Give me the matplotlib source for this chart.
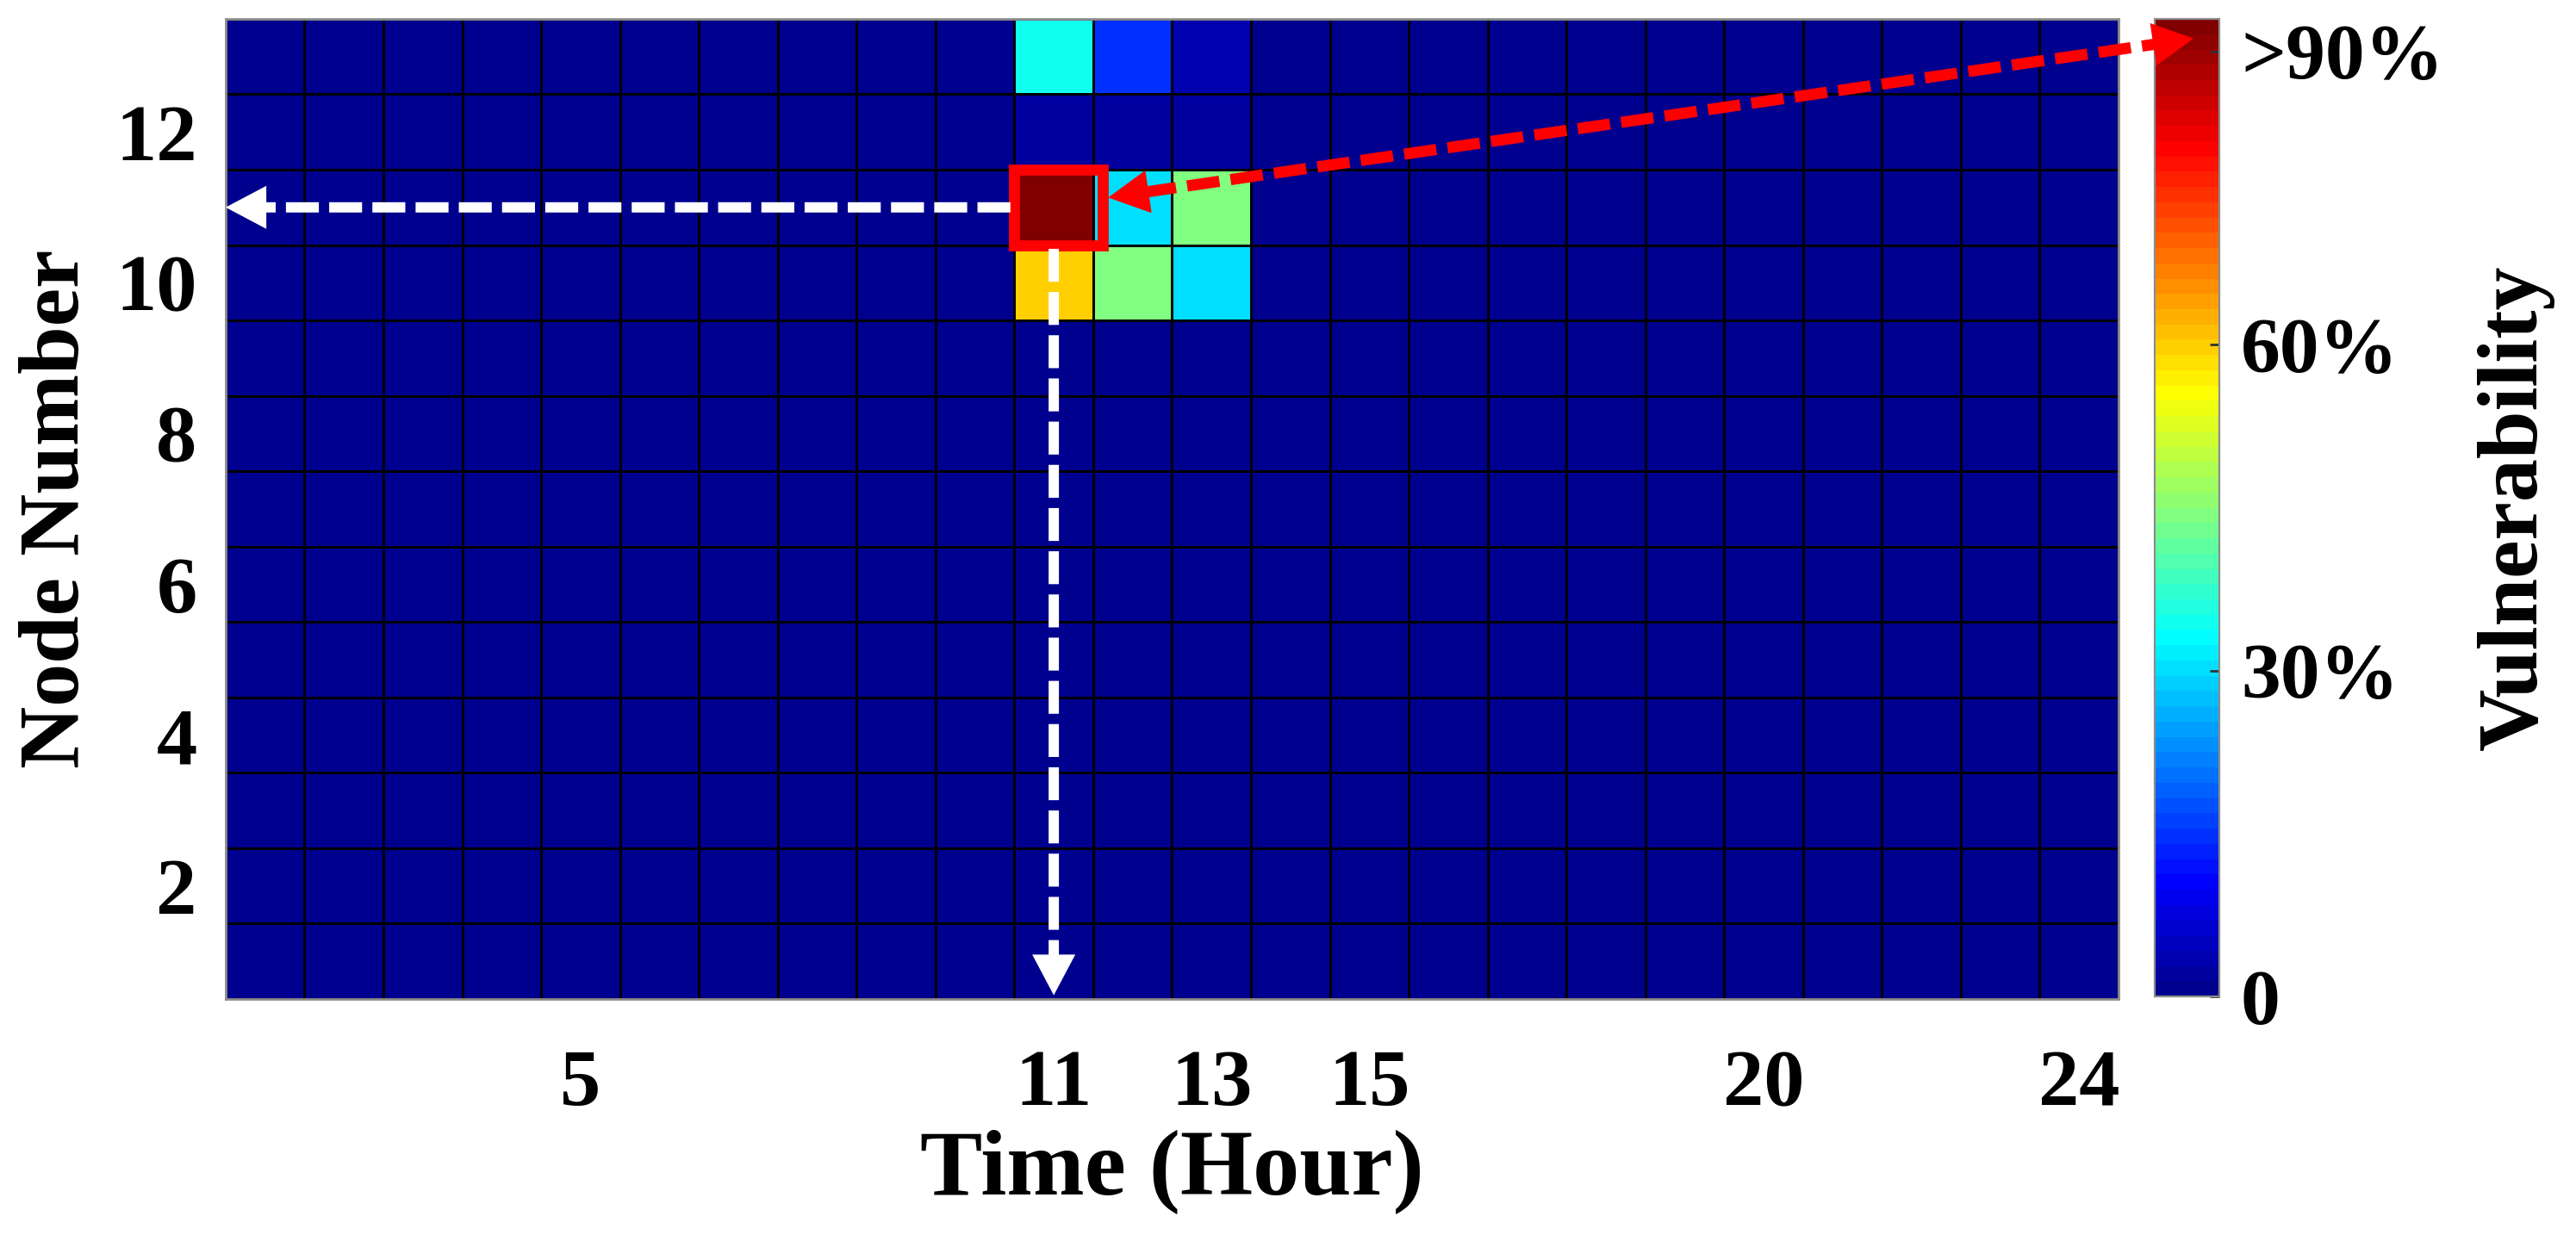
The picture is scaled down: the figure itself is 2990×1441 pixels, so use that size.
import numpy as np
import matplotlib
matplotlib.use("Agg")
import matplotlib.pyplot as plt
from matplotlib.colors import ListedColormap
from matplotlib.patches import Rectangle

plt.rcParams["font.family"] = ["Liberation Serif", "DejaVu Serif"]
plt.rcParams["font.weight"] = "bold"

# data
hours = np.arange(1, 25)
nodes = np.arange(1, 14)
hot_hours = [11, 12, 13, 11, 12, 13, 11, 12, 13, 11, 12, 13]
hot_nodes = [13, 13, 13, 12, 12, 12, 11, 11, 11, 10, 10, 10]
hot_values = [0.345, 0.147, 0.03, 0.02, 0.02, 0.02, 0.95, 0.30, 0.443, 0.597, 0.443, 0.30]

x_ticks = [5, 11, 13, 15, 20, 24]
y_ticks = [2, 4, 6, 8, 10, 12]
cbar_ticks = [0, 0.3, 0.6, 0.87]
cbar_labels = ["0", "30%", "60%", ">90%"]
v_max = 0.9
peak_hour, peak_node = 11, 11

vul = np.zeros((len(nodes), len(hours)))
for h, n, v in zip(hot_hours, hot_nodes, hot_values):
    vul[n - 1, h - 1] = v


def matlab_jet(m=64):
    """ same stepped jet MATLAB uses """
    n = int(np.ceil(m / 4))
    u = np.concatenate([np.arange(1, n + 1) / n, np.ones(n - 1), np.arange(n, 0, -1) / n])
    g = int(np.ceil(n / 2)) - (m % 4 == 1) + np.arange(1, len(u) + 1)
    J = np.zeros((m, 3))
    for ch, idx in ((0, g + n), (1, g), (2, g - n)):
        ok = (idx >= 1) & (idx <= m)
        J[idx[ok] - 1, ch] = u[ok]
    return ListedColormap(J)


fig = plt.figure(figsize=(14.95, 7.205), dpi=200)
ax = fig.add_axes([0.0876, 0.195, 0.7348, 0.7898])
cax = fig.add_axes([0.8365, 0.197, 0.025, 0.7877])
ax.set_zorder(3)  # arrows drawn over the colorbar

mesh = ax.pcolormesh(hours, nodes, vul, cmap=matlab_jet(64), vmin=0, vmax=v_max,
                     edgecolors="black", linewidth=1.0, shading="nearest")
ax.set_xlim(0.5, 24.5)
ax.set_ylim(0.5, 13.5)
ax.set_xticks(x_ticks)
ax.set_yticks(y_ticks)
ax.tick_params(length=0, labelsize=34, pad=21)
ax.tick_params(axis="y", pad=12)
for s in ax.spines.values():
    s.set_color("#8c8c8c")
    s.set_linewidth(1.0)
ax.set_xlabel("Time (Hour)", fontsize=39, fontweight="bold", labelpad=3)
ax.set_ylabel("Node Number", fontsize=36, fontweight="bold", labelpad=8)

cbar = fig.colorbar(mesh, cax=cax, ticks=cbar_ticks)
cbar.ax.set_yticklabels(cbar_labels)
cbar.ax.tick_params(direction="in", length=4, width=1, labelsize=33, pad=9, color="#333333")
cbar.outline.set_edgecolor("#8c8c8c")
cbar.set_label("Vulnerability", fontsize=36, fontweight="bold", labelpad=14)

# red box around the peak cell
ax.add_patch(Rectangle((peak_hour - 0.5, peak_node - 0.5), 1.12, 1.0, fill=False,
                       edgecolor="red", linewidth=4.6, zorder=5))


def dashed_arrow(start, end, color, lw, dashes, heads=("end",),
                 start_coords="data", end_coords="data", hl=17, hw=9):
    ax.annotate("", xy=end, xycoords=end_coords, xytext=start, textcoords=start_coords,
                arrowprops=dict(arrowstyle="-", color=color, lw=lw, linestyle=(0, dashes),
                                shrinkA=hl - 2 if "start" in heads else 0,
                                shrinkB=hl - 2, capstyle="butt"),
                annotation_clip=False, zorder=6)
    style = f"-|>,head_length={hl},head_width={hw}"
    ax.annotate("", xy=end, xycoords=end_coords, xytext=start, textcoords=start_coords,
                arrowprops=dict(arrowstyle=style, mutation_scale=1, color=color, lw=0,
                                shrinkA=0, shrinkB=0),
                annotation_clip=False, zorder=7)
    if "start" in heads:
        ax.annotate("", xy=start, xycoords=start_coords, xytext=end, textcoords=end_coords,
                    arrowprops=dict(arrowstyle=style, mutation_scale=1, color=color, lw=0,
                                    shrinkA=0, shrinkB=0),
                    annotation_clip=False, zorder=7)


# white dashed arrows to the axes
dashed_arrow((peak_hour - 0.55, peak_node), (0.5, peak_node), "white", 4.3, (3.2, 1.0))
dashed_arrow((peak_hour, peak_node - 0.55), (peak_hour, 0.55), "white", 4.3, (3.2, 1.0))

# red dashed double arrow to the colorbar top
dashed_arrow((peak_hour + 0.69, peak_node + 0.13), (0.6, 0.98), "red", 4.7, (2.9, 1.0),
             heads=("start", "end"), end_coords=cax.transAxes)

fig.savefig("out.png", dpi=200, facecolor="white")
